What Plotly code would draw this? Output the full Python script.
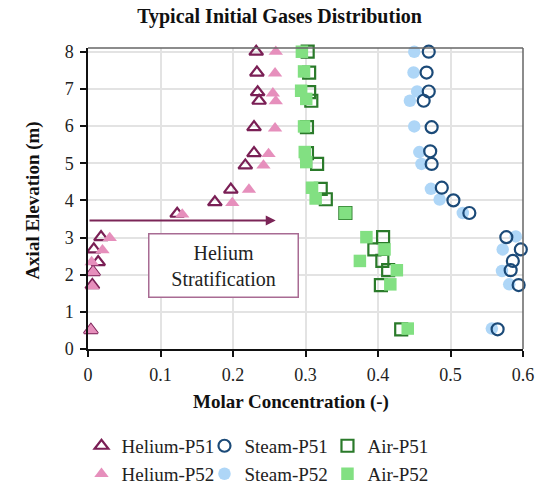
import plotly.graph_objects as go

# ---- data ----
he51_x = [0.232, 0.233, 0.234, 0.236, 0.229, 0.229, 0.217, 0.197, 0.175, 0.123, 0.018, 0.008, 0.014, 0.007, 0.006, 0.004]
he51_y = [8.0, 7.44, 6.91, 6.68, 5.97, 5.27, 4.94, 4.29, 3.95, 3.64, 3.01, 2.68, 2.34, 2.07, 1.72, 0.51]
he52_x = [0.259, 0.258, 0.255, 0.259, 0.258, 0.249, 0.242, 0.222, 0.199, 0.130, 0.030, 0.020, 0.005, 0.007, 0.006, 0.004]
he52_y = [8.0, 7.42, 6.88, 6.67, 5.94, 5.25, 4.94, 4.29, 3.93, 3.62, 2.99, 2.66, 2.34, 2.07, 1.69, 0.51]
st51_x = [0.470, 0.467, 0.470, 0.463, 0.474, 0.472, 0.474, 0.488, 0.504, 0.526, 0.577, 0.597, 0.586, 0.583, 0.594, 0.565]
st51_y = [8.0, 7.44, 6.93, 6.68, 5.97, 5.32, 4.98, 4.34, 4.0, 3.66, 3.01, 2.68, 2.37, 2.12, 1.72, 0.53]
st52_x = [0.450, 0.449, 0.454, 0.444, 0.450, 0.457, 0.460, 0.473, 0.485, 0.517, 0.590, 0.572, 0.571, 0.581, 0.557]
st52_y = [8.0, 7.44, 6.93, 6.68, 5.99, 5.30, 4.98, 4.31, 4.02, 3.66, 3.03, 2.68, 2.10, 1.74, 0.55]
air51_x = [0.303, 0.305, 0.305, 0.308, 0.302, 0.302, 0.316, 0.321, 0.328, 0.355, 0.407, 0.395, 0.406, 0.414, 0.404, 0.432]
air51_y = [8.0, 7.44, 6.91, 6.68, 5.97, 5.27, 4.98, 4.31, 4.03, 3.66, 3.01, 2.68, 2.37, 2.12, 1.72, 0.53]
air52_x = [0.295, 0.298, 0.294, 0.301, 0.298, 0.299, 0.301, 0.309, 0.314, 0.355, 0.384, 0.409, 0.375, 0.426, 0.417, 0.441]
air52_y = [8.0, 7.47, 6.95, 6.73, 5.99, 5.30, 5.03, 4.34, 4.05, 3.66, 3.01, 2.68, 2.37, 2.12, 1.74, 0.55]

x_ticks = [0, 0.1, 0.2, 0.3, 0.4, 0.5, 0.6]
x_ticklabels = ["0", "0.1", "0.2", "0.3", "0.4", "0.5", "0.6"]
y_ticks = [0, 1, 2, 3, 4, 5, 6, 7, 8]

FONT = "Liberation Serif"

fig = go.Figure()

def add(x, y, name, symbol, color, rank, legend, filled):
    if filled:
        marker = dict(symbol=symbol, size=12.5, color=color, line=dict(width=0))
    else:
        marker = dict(symbol=symbol + "-open", size=12, color=color, line=dict(width=2.2, color=color))
    fig.add_trace(go.Scatter(x=x, y=y, mode="markers", name=name, marker=marker,
                             legendrank=rank, legend=legend, cliponaxis=False))

# draw order (later on top)
add(he51_x, he51_y, "Helium-P51", "triangle-up", "#7A1F55", 1, "legend", False)
add(he52_x, he52_y, "Helium-P52", "triangle-up", "#E68FBC", 4, "legend2", True)
add(st52_x, st52_y, "Steam-P52", "circle", "#AED6F7", 5, "legend2", True)
add(st51_x, st51_y, "Steam-P51", "circle", "#1B4A78", 2, "legend", False)
add(air51_x, air51_y, "Air-P51", "square", "#2A7A2A", 3, "legend", False)
add(air52_x, air52_y, "Air-P52", "square", "#82E082", 6, "legend2", True)

# arrow
fig.add_annotation(x=0.259, y=3.46, ax=0.0, ay=3.46, xref="x", yref="y", axref="x", ayref="y",
                   showarrow=True, arrowhead=2, arrowsize=1, arrowwidth=2, arrowcolor="#7B2557", text="")
# text box
fig.add_annotation(x=0.187, y=2.25, xref="x", yref="y", text="Helium<br>Stratification",
                   showarrow=False, font=dict(family=FONT, size=20, color="#222"),
                   bordercolor="#A86B93", borderwidth=1.5, bgcolor="white", borderpad=2,
                   width=144, height=58)

# axis titles
fig.add_annotation(x=0.4667, y=-0.176, xref="paper", yref="paper", showarrow=False,
                   text="<b>Molar Concentration (-)</b>", xanchor="center", yanchor="middle",
                   font=dict(family=FONT, size=19, color="#111"))
fig.add_annotation(x=-0.1264, y=0.493, xref="paper", yref="paper", showarrow=False,
                   text="<b>Axial Elevation (m)</b>", textangle=-90, xanchor="center", yanchor="middle",
                   font=dict(family=FONT, size=19, color="#111"))

# top/right frame
fig.add_shape(type="line", xref="paper", yref="paper", x0=0, x1=1, y0=1, y1=1,
              line=dict(color="#666", width=1.5))
fig.add_shape(type="line", xref="paper", yref="paper", x0=1, x1=1, y0=0, y1=1,
              line=dict(color="#666", width=1.5))

legend_common = dict(orientation="h", font=dict(family=FONT, size=19, color="#222"),
                     entrywidth=78, entrywidthmode="pixels", bgcolor="rgba(0,0,0,0)",
                     xanchor="left", yanchor="middle", itemclick=False, tracegroupgap=0)

axis_common = dict(showline=True, linecolor="#111", linewidth=1.5, zeroline=False,
                   tickcolor="#111", tickwidth=1.5)

fig.update_layout(
    width=548, height=485,
    margin=dict(l=88, r=25, t=48, b=136, autoexpand=False),
    paper_bgcolor="white", plot_bgcolor="white",
    title=dict(text="<b>Typical Initial Gases Distribution</b>", x=0.51, xanchor="center",
               y=0.967, yanchor="middle", font=dict(family=FONT, size=20, color="#111")),
    xaxis=dict(range=[0, 0.6], tickvals=x_ticks, ticktext=x_ticklabels,
               showgrid=True, gridcolor="#E3E3E3", gridwidth=1.5,
               ticks="outside", ticklen=6, ticklabelstandoff=3,
               tickfont=dict(family=FONT, size=18, color="#222"), **axis_common),
    yaxis=dict(range=[0, 8.1], tickvals=y_ticks,
               showgrid=True, gridcolor="#E3E3E3", gridwidth=1.5,
               ticks="outside", ticklen=6, ticklabelstandoff=3,
               tickfont=dict(family=FONT, size=18, color="#222"), **axis_common),
    xaxis2=dict(range=[0, 0.6], tickvals=x_ticks, overlaying="x", side="bottom", anchor="y",
                showgrid=False, showticklabels=False, ticks="inside", ticklen=6, **axis_common),
    yaxis2=dict(range=[0, 8.1], tickvals=y_ticks, overlaying="y", side="left", anchor="x",
                showgrid=False, showticklabels=False, ticks="inside", ticklen=6, **axis_common),
    legend=dict(x=-0.015, y=-0.322, **legend_common),
    legend2=dict(x=-0.015, y=-0.415, **legend_common),
)

fig.write_html("out.html")
